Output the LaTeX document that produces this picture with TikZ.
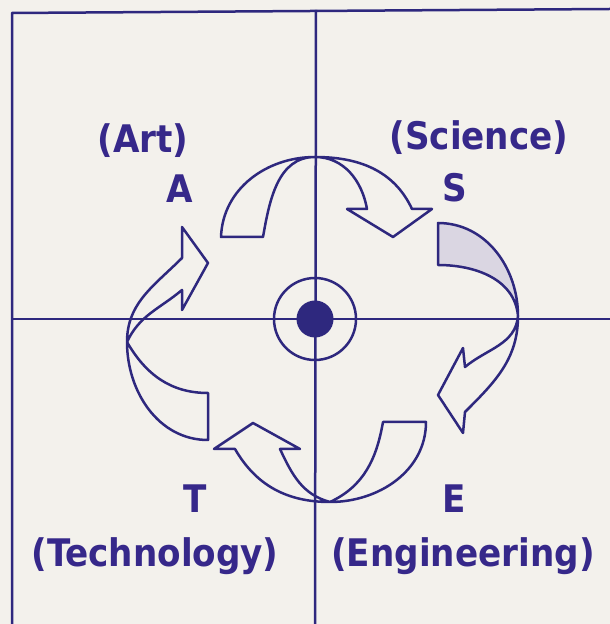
\documentclass[tikz,border=0pt]{standalone}
\usepackage{fontspec}
\newfontfamily\labfont{DejaVu Sans Condensed Bold}
\definecolor{bgc}{RGB}{243,241,236}
\definecolor{inkline}{RGB}{46,40,126}
\definecolor{inktext}{RGB}{54,40,138}
\definecolor{shadec}{RGB}{218,214,226}
\begin{document}
\begin{tikzpicture}[x=1pt,y=1pt,
  ln/.style={draw=inkline,line width=2.5pt,line join=round},
  lab/.style={text=inktext,font=\labfont\fontsize{38}{40}\selectfont,anchor=base,inner sep=0pt}]
\fill[bgc] (0,0) rectangle (610,624);
\useasboundingbox (0,0) rectangle (610,624);
% frame and cross
\draw[ln] (12,0) -- (12,611) -- (610,615);
\draw[ln] (315,0) -- (316,614);
\draw[ln] (12,305) -- (610,305);
% centre
\node[ln,circle,minimum size=82pt,inner sep=0pt] (hub) at (315,305) {};
\node[circle,fill=inkline,minimum size=37pt,inner sep=0pt] (dot) at (hub.center) {};
% shading on right arrow tail
\fill[shadec] (438,401) to[out=0,in=90] (518,308) to[out=95,in=0] (438,359) -- cycle;
% top arrow
\draw[ln] (221,387) to[out=88,in=180] (315,467) to[out=0,in=115] (412,415)
  -- (432,415) -- (393,387) -- (347,415) -- (367,415)
  to[out=100,in=0] (315,467) to[out=180,in=80] (263,387) -- cycle;
% right arrow
\draw[ln] (438,401) to[out=0,in=90] (518,308) to[out=-90,in=45] (465,212)
  -- (463,191) -- (438,229) -- (463,276) -- (465,257)
  to[out=40,in=-95] (518,308) to[out=95,in=0] (438,359) -- cycle;
% bottom arrow
\draw[ln] (426,202) to[out=-90,in=0] (330,122) to[out=180,in=-60] (235,175)
  -- (214,175) -- (253,201) -- (300,175) -- (280,175)
  to[out=-65,in=165] (330,122) to[out=25,in=-100] (383,202) -- cycle;
% left arrow
\draw[ln] (208,184) to[out=180,in=-90] (127,282) to[out=90,in=-135] (182,366)
  -- (182,397) -- (208,361) -- (182,314) -- (182,334)
  to[out=-140,in=65] (127,282) to[out=-60,in=180] (208,231) -- cycle;
% labels
\node[lab] (art) at (143,471) {(Art)};
\node[lab] (a) at (180,421) {A};
\node[lab] (sci) at (479,474) {(Science)};
\node[lab] (s) at (455,422) {S};
\node[lab] (t) at (195,111) {T};
\node[lab] (tech) at (155,57) {(Technology)};
\node[lab] (e) at (454,111) {E};
\node[lab] (eng) at (463,57) {(Engineering)};
\end{tikzpicture}
\end{document}
